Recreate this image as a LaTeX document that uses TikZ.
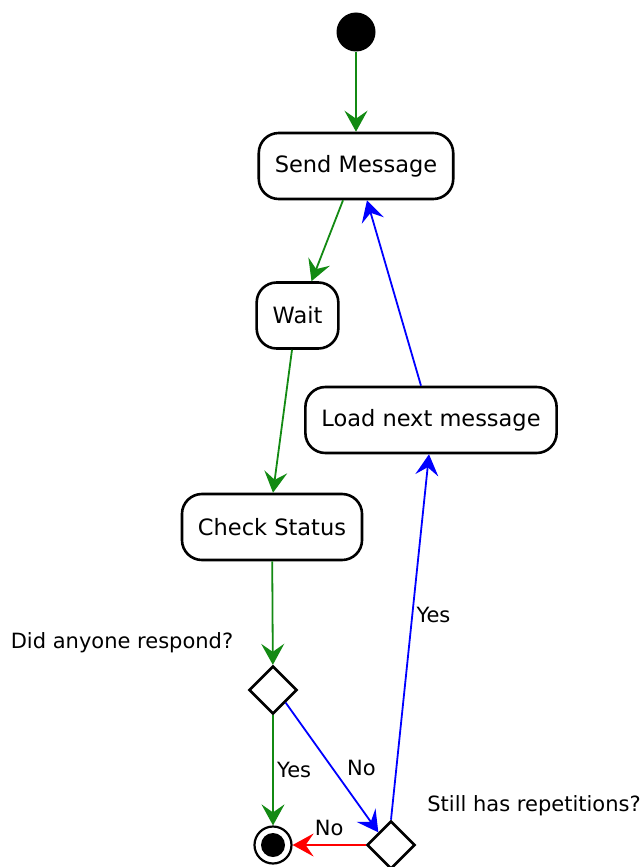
\documentclass[tikz,border=0pt]{standalone}
\usepackage{fontspec}
\setmainfont{DejaVu Sans}
\usetikzlibrary{arrows.meta,shapes.geometric}
\definecolor{cgo}{HTML}{138A13}
\definecolor{cloop}{HTML}{0000FF}
\definecolor{cstop}{HTML}{FF0000}
\tikzset{
  act/.style={rectangle, rounded corners=20pt, draw, line width=2.6pt, fill=white,
    minimum height=66pt, inner xsep=16pt, font=\fontsize{22.5}{26}\selectfont},
  dec/.style={diamond, draw, line width=2.6pt, fill=white, minimum width=48pt,
    minimum height=48pt, inner sep=0pt},
  init/.style={circle, fill=black, minimum size=39pt, inner sep=0pt},
  final/.style={circle, draw, line width=2.2pt, minimum size=37pt, inner sep=0pt,
    path picture={\fill (path picture bounding box.center) circle (12pt);}},
  lbl/.style={text=black, font=\fontsize{21}{25}\selectfont},
  flow/.style={-{Stealth[length=21pt,width=23pt,inset=8pt]}, line width=1.8pt},
}

\begin{document}
\begin{tikzpicture}[x=1pt, y=-1pt]
  \useasboundingbox (0,0) rectangle (644,867);

  \node[init] (start) at (356,32) {};
  \node[act] (send) at (356,166) {Send Message};
  \node[act] (wait) at (297.5,315.5) {Wait};
  \node[act] (load) at (431,420) {Load next message};
  \node[act] (check) at (272,527) {Check Status};
  \node[dec] (resp) at (273,690) {};
  \node[dec] (reps) at (391,845) {};
  \node[final] (stop) at (273,845) {};

  \node[lbl] (respq) at (122,643) {Did anyone respond?};
  \node[lbl] (repsq) at (534,806) {Still has repetitions?};

  % main line
  \draw[flow, cgo] (start) -- (send);
  \draw[flow, cgo] ([xshift=-13pt]send.south) -- ([xshift=14pt]wait.north);
  \draw[flow, cgo] ([xshift=-5.5pt]wait.south) -- ([xshift=1pt]check.north);
  \draw[flow, cgo] (check) -- (resp);
  \draw[flow, cgo] (resp) -- node[lbl, right]{Yes} (stop);

  % retry loop
  \draw[flow, cloop] (resp.south east) -- node[lbl, right, xshift=11pt]{No} (reps.north west);
  \draw[flow, cloop] (reps.north) -- node[lbl, right, pos=0.56]{Yes} ([xshift=-2pt]load.south);
  \draw[flow, cloop] ([xshift=-10pt]load.north) -- ([xshift=11pt]send.south);
  \draw[flow, cstop] (reps.west) -- node[lbl, above=5pt]{No} (stop);
\end{tikzpicture}
\end{document}
